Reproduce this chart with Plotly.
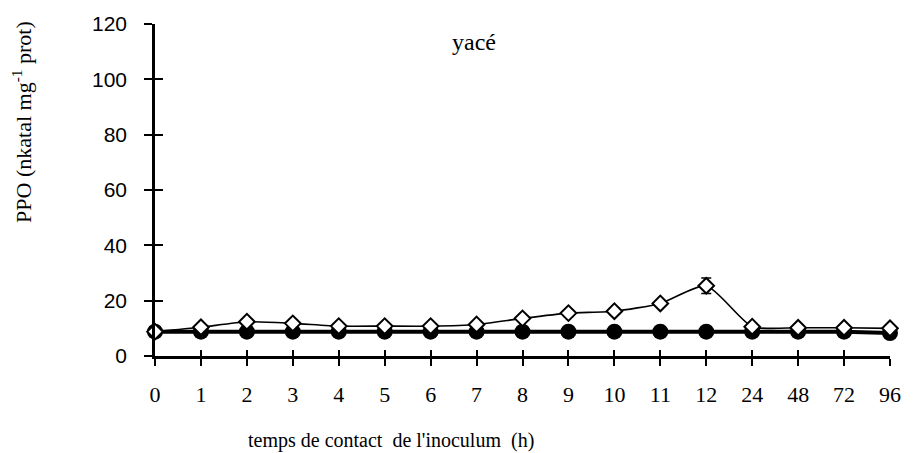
import plotly.graph_objects as go

categories = ["0", "1", "2", "3", "4", "5", "6", "7", "8", "9", "10", "11", "12", "24", "48", "72", "96"]
inocule = [8.8, 10.4, 12.4, 11.8, 10.8, 10.8, 10.8, 11.4, 13.6, 15.5, 16.2, 19.0, 25.4, 10.6, 10.2, 10.2, 10.0]
inocule_err = [0.3, 0.3, 0.4, 0.4, 0.3, 0.3, 0.3, 0.3, 0.5, 1.2, 1.2, 0.8, 2.8, 0.5, 0.4, 0.3, 0.3]
temoin = [8.8, 8.8, 8.8, 8.8, 8.8, 8.8, 8.8, 8.8, 8.8, 8.8, 8.8, 8.8, 8.8, 8.8, 8.8, 8.8, 8.3]
y_ticks = [0, 20, 40, 60, 80, 100, 120]

W, H = 913, 453
L, R, T, B = 155, 18, 24, 97
pw, ph = W - L - R, H - T - B

def px(x):
    return (x - L) / pw

def py(y):
    return (H - B - y) / ph

fig = go.Figure()
fig.add_trace(go.Scatter(
    x=categories, y=temoin, mode="lines+markers",
    line=dict(color="black", width=4),
    marker=dict(symbol="circle", size=16, color="black"),
    cliponaxis=False, showlegend=False))
fig.add_trace(go.Scatter(
    x=categories, y=inocule, mode="lines+markers",
    line=dict(color="black", width=1.6, shape="spline", smoothing=0.6),
    marker=dict(symbol="diamond", size=12, color="white", line=dict(color="black", width=2)),
    error_y=dict(type="data", array=inocule_err, color="black", thickness=1.5, width=5),
    cliponaxis=False, showlegend=False))
# invisible trace on overlay axes for crossing ticks
fig.add_trace(go.Scatter(x=categories, y=temoin, xaxis="x2", yaxis="y2",
                         mode="markers", marker=dict(opacity=0), hoverinfo="skip", showlegend=False))

fig.update_layout(
    width=W, height=H,
    margin=dict(l=L, r=R, t=T, b=B),
    paper_bgcolor="white", plot_bgcolor="white",
    xaxis=dict(type="category", range=[0, 16], showgrid=False, zeroline=False,
               showline=True, linecolor="black", linewidth=2.5,
               ticks="outside", ticklen=7, tickwidth=2, tickcolor="black",
               tickfont=dict(family="Liberation Serif", size=22, color="black"),
               ticklabelstandoff=10),
    yaxis=dict(range=[0, 120], tickvals=y_ticks, showgrid=False, zeroline=False,
               showline=True, linecolor="black", linewidth=2.5,
               ticks="outside", ticklen=8, tickwidth=2, tickcolor="black",
               tickfont=dict(family="Liberation Sans", size=21, color="black"),
               ticklabelstandoff=13),
    xaxis2=dict(type="category", range=[0, 16], overlaying="x", anchor="y2",
                showgrid=False, zeroline=False, showline=False,
                ticks="inside", ticklen=6, tickwidth=2, tickcolor="black", showticklabels=False),
    yaxis2=dict(range=[0, 120], tickvals=y_ticks, overlaying="y", anchor="x2",
                showgrid=False, zeroline=False, showline=False,
                ticks="inside", ticklen=8, tickwidth=2, tickcolor="black", showticklabels=False),
    annotations=[
        dict(text="yacé", x=px(476), y=py(42), xref="paper", yref="paper", showarrow=False,
             xanchor="center", yanchor="middle",
             font=dict(family="Liberation Serif", size=24, color="black")),
        dict(text="PPO (nkatal mg<sup>-1</sup> prot)", x=px(21), y=py(122), xref="paper", yref="paper",
             showarrow=False, textangle=-90, xanchor="center", yanchor="middle",
             font=dict(family="Liberation Serif", size=22, color="black")),
        dict(text="temps de contact  de l'inoculum  (h)", x=px(393), y=py(440),
             xref="paper", yref="paper", showarrow=False, xanchor="center", yanchor="middle",
             font=dict(family="Liberation Serif", size=20, color="black")),
    ],
)

fig.write_html("out.html", config={"displayModeBar": False},
               post_script="document.body.style.margin='0';")
